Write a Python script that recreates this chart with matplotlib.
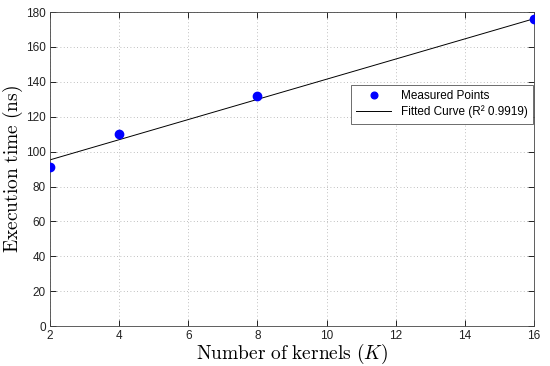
import matplotlib.pyplot as plt

plt.rcParams['font.family'] = ['Liberation Sans', 'DejaVu Sans']
plt.rcParams['mathtext.fontset'] = 'cm'

# measured execution times
kernels = [2, 4, 8, 16]
exec_time = [91, 110, 132, 176]

# fitted line
fit_x = [2, 16]
fit_y = [95.3, 176.2]

xticks = [2, 4, 6, 8, 10, 12, 14, 16]
yticks = [0, 20, 40, 60, 80, 100, 120, 140, 160, 180]

fig = plt.figure(figsize=(5.5, 3.66), dpi=100)
ax = fig.add_axes([0.091, 0.109, 0.88, 0.858])

ax.plot(kernels, exec_time, 'o', color='#0000ff', markersize=6, label='Measured Points', zorder=3)
ax.plot(fit_x, fit_y, '-', color='black', linewidth=0.7, label='Fitted Curve (R² 0.9919)')

ax.set_xlim(2, 16)
ax.set_ylim(0, 180)
ax.set_xticks(xticks)
ax.set_yticks(yticks)
ax.tick_params(direction='in', top=True, right=True, labelsize=8.5, length=4, width=0.6,
               pad=3, labelcolor='#222222')
for s in ax.spines.values():
    s.set_linewidth(0.6)
    s.set_color('#444444')
ax.grid(True, linestyle=(0, (1, 3)), color='#aaaaaa', linewidth=0.6)

ax.set_xlabel(r'$\mathrm{Number\ of\ kernels}\ (K)$', fontsize=14, labelpad=0)
ax.set_ylabel(r'$\mathrm{Execution\ time\ (ns)}$', fontsize=14, labelpad=1)

leg = ax.legend(loc='center right', bbox_to_anchor=(1.0, 0.707), fontsize=8.5,
                fancybox=False, framealpha=1, edgecolor='#555555', borderaxespad=0.1,
                handlelength=3.0, borderpad=0.45, labelspacing=0.3, markerscale=0.8)
leg.get_frame().set_linewidth(0.6)

fig.savefig('out.png', dpi=100)
